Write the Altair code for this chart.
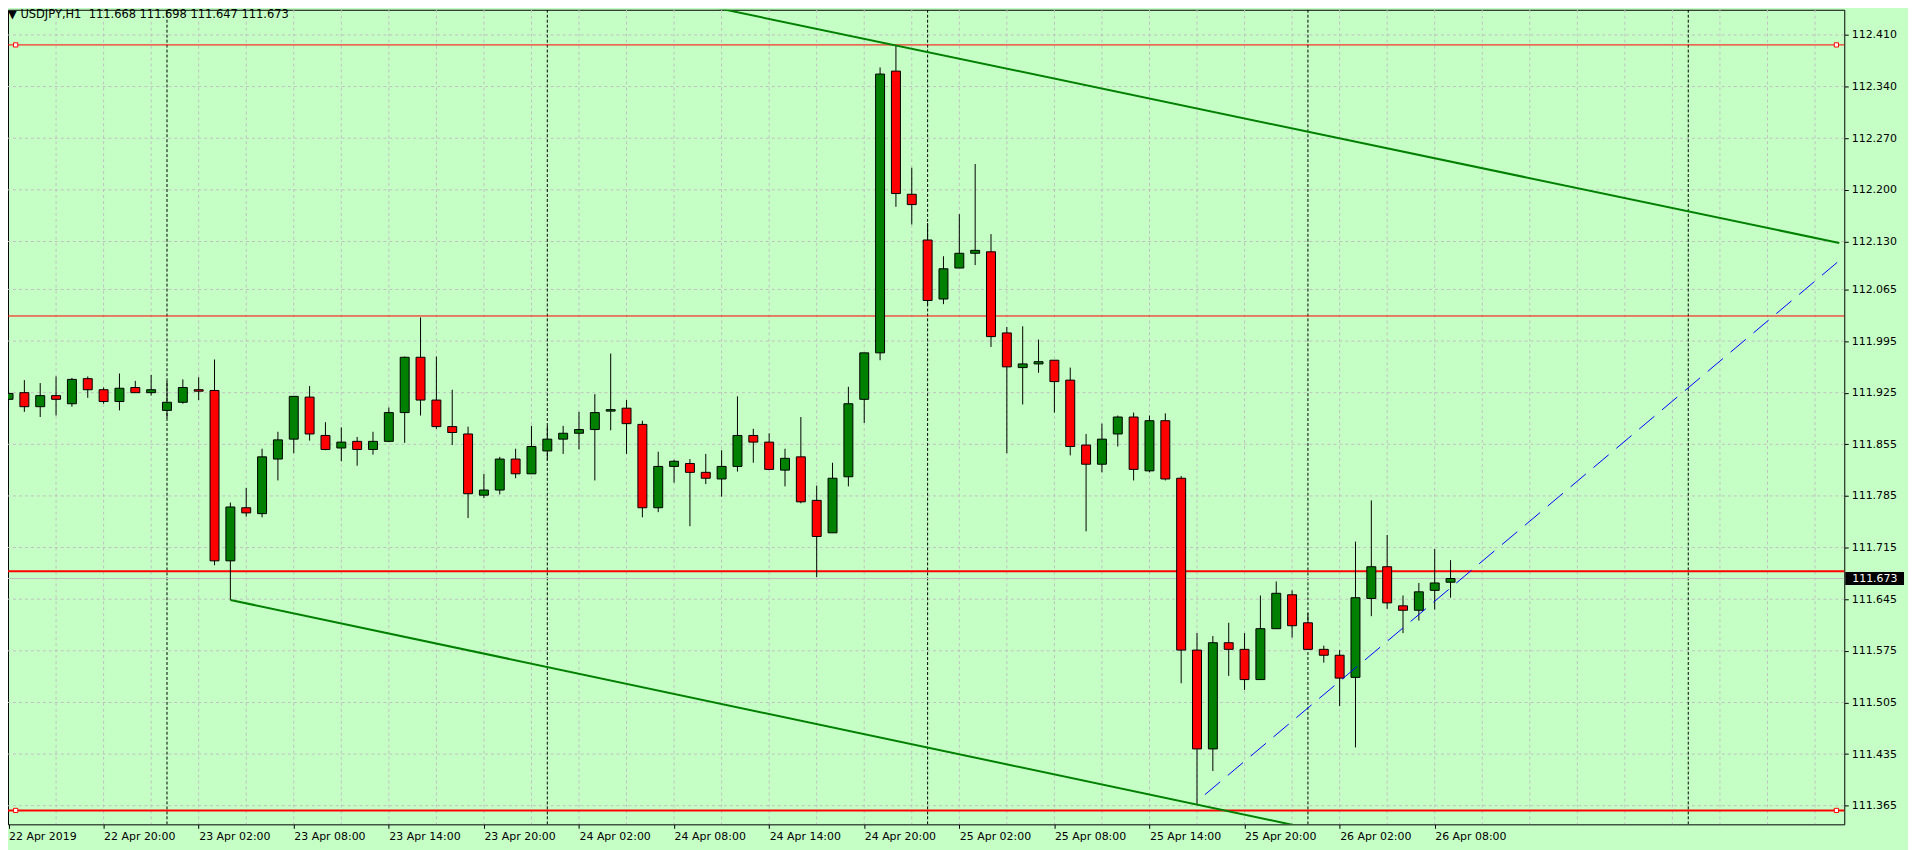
import altair as alt
import pandas as pd

# ---------------- data ----------------
TIME_LABELS = ["22 Apr 2019", "22 Apr 20:00", "23 Apr 02:00", "23 Apr 08:00",
               "23 Apr 14:00", "23 Apr 20:00", "24 Apr 02:00", "24 Apr 08:00",
               "24 Apr 14:00", "24 Apr 20:00", "25 Apr 02:00", "25 Apr 08:00",
               "25 Apr 14:00", "25 Apr 20:00", "26 Apr 02:00", "26 Apr 08:00"]
BARS_PER_LABEL = 6

OPEN = [111.916, 111.925, 111.906, 111.921, 111.910, 111.944, 111.929, 111.913, 111.932, 111.925,
        111.901, 111.912, 111.929, 111.928, 111.697, 111.769, 111.761, 111.835, 111.862, 111.919,
        111.867, 111.850, 111.859, 111.848, 111.859, 111.898, 111.973, 111.915, 111.879, 111.869,
        111.786, 111.793, 111.835, 111.815, 111.846, 111.862, 111.870, 111.875, 111.900, 111.904,
        111.882, 111.769, 111.825, 111.829, 111.817, 111.808, 111.825, 111.867, 111.858, 111.820,
        111.838, 111.779, 111.735, 111.811, 111.916, 111.979, 112.361, 112.194, 112.132, 112.052,
        112.094, 112.114, 112.116, 112.006, 111.959, 111.964, 111.969, 111.942, 111.854, 111.828,
        111.869, 111.892, 111.819, 111.887, 111.809, 111.576, 111.442, 111.586, 111.577, 111.536,
        111.605, 111.651, 111.613, 111.577, 111.569, 111.539, 111.646, 111.689, 111.636, 111.630,
        111.657, 111.668]
HIGH = [111.934, 111.942, 111.938, 111.947, 111.945, 111.947, 111.932, 111.951, 111.941, 111.949,
        111.941, 111.943, 111.946, 111.970, 111.776, 111.796, 111.849, 111.872, 111.920, 111.934,
        111.885, 111.878, 111.865, 111.872, 111.905, 111.974, 112.027, 111.974, 111.929, 111.879,
        111.815, 111.838, 111.849, 111.880, 111.880, 111.880, 111.899, 111.923, 111.978, 111.915,
        111.887, 111.845, 111.834, 111.835, 111.842, 111.847, 111.920, 111.876, 111.870, 111.849,
        111.892, 111.799, 111.830, 111.933, 111.979, 112.366, 112.396, 112.230, 112.155, 112.110,
        112.167, 112.235, 112.140, 112.014, 112.015, 111.997, 111.969, 111.959, 111.869, 111.883,
        111.894, 111.898, 111.894, 111.897, 111.812, 111.599, 111.595, 111.613, 111.599, 111.650,
        111.669, 111.657, 111.626, 111.582, 111.576, 111.723, 111.779, 111.732, 111.650, 111.667,
        111.713, 111.698]
LOW = [111.906, 111.899, 111.892, 111.894, 111.906, 111.918, 111.910, 111.901, 111.925, 111.921,
       111.890, 111.910, 111.915, 111.691, 111.644, 111.757, 111.756, 111.806, 111.843, 111.860,
       111.847, 111.832, 111.826, 111.841, 111.859, 111.857, 111.894, 111.876, 111.854, 111.755,
       111.782, 111.787, 111.809, 111.815, 111.833, 111.842, 111.848, 111.806, 111.874, 111.842,
       111.756, 111.763, 111.803, 111.744, 111.801, 111.784, 111.818, 111.830, 111.820, 111.798,
       111.775, 111.675, 111.735, 111.798, 111.884, 111.969, 112.177, 112.153, 112.044, 112.045,
       112.094, 112.098, 111.987, 111.843, 111.909, 111.952, 111.898, 111.840, 111.737, 111.817,
       111.852, 111.806, 111.817, 111.806, 111.531, 111.366, 111.412, 111.541, 111.522, 111.536,
       111.605, 111.593, 111.577, 111.559, 111.500, 111.444, 111.622, 111.632, 111.599, 111.616,
       111.631, 111.647]
CLOSE = [111.924, 111.906, 111.921, 111.916, 111.943, 111.929, 111.913, 111.931, 111.925, 111.929,
         111.912, 111.932, 111.927, 111.697, 111.770, 111.762, 111.838, 111.861, 111.920, 111.869,
         111.848, 111.858, 111.848, 111.859, 111.898, 111.973, 111.915, 111.879, 111.871, 111.788,
         111.793, 111.835, 111.815, 111.852, 111.862, 111.870, 111.875, 111.898, 111.902, 111.883,
         111.769, 111.825, 111.832, 111.817, 111.809, 111.825, 111.867, 111.858, 111.821, 111.836,
         111.777, 111.730, 111.809, 111.910, 111.979, 112.357, 112.195, 112.180, 112.050, 112.093,
         112.114, 112.118, 112.001, 111.960, 111.964, 111.967, 111.940, 111.852, 111.828, 111.862,
         111.892, 111.821, 111.887, 111.808, 111.576, 111.442, 111.586, 111.577, 111.536, 111.605,
         111.653, 111.609, 111.577, 111.569, 111.538, 111.647, 111.689, 111.640, 111.630, 111.655,
         111.667, 111.673]

PRICE_TICKS = [112.410, 112.340, 112.270, 112.200, 112.130, 112.065, 111.995, 111.925,
               111.855, 111.785, 111.715, 111.645, 111.575, 111.505, 111.435, 111.365]
GRID_BARS = list(range(3, 115, 3))
DAY_START_BARS = [10, 34, 58, 82, 106]

RED_THIN_LEVELS = [112.3965, 112.029]
RED_THICK_LEVELS = [111.683, 111.3586]
SELECTED_LEVELS = [112.3965, 111.3586]
SELECTED_HANDLE_BARS = [0.45, 115.35]
BID = 111.673

UPPER_TL_BARS = [43.5, 115.53]
UPPER_TL_PRICES = [112.452, 112.128]
LOWER_TL_BARS = [14, 85]
LOWER_TL_PRICES = [111.644, 111.321]
BLUE_TL_BARS = [75.5, 115.53]
BLUE_TL_PRICES = [111.380, 112.104]

HEADER = "\u25bc\u00a0USDJPY,H1\u00a0\u00a0111.668 111.698 111.647 111.673"

# ---------------- layout ----------------
W, H = 1844, 818
X_DOMAIN = [0.28125, 0.28125 + W / 16.0]
Y_DOMAIN = [111.33975, 112.44416]
BG = "#C6FFC6"
FONT = "DejaVu Sans"

candles = pd.DataFrame({"bar": list(range(len(OPEN))), "open": OPEN, "high": HIGH,
                        "low": LOW, "close": CLOSE})
candles["dir"] = ["up" if c >= o else "down" for o, c in zip(OPEN, CLOSE)]

xs = alt.Scale(domain=X_DOMAIN, nice=False, zero=False)
ys = alt.Scale(domain=Y_DOMAIN, nice=False, zero=False)

label_arr = "[" + ",".join("'%s'" % s for s in TIME_LABELS) + "]"
x_axis = alt.Axis(values=[i * BARS_PER_LABEL for i in range(len(TIME_LABELS))],
                  labelExpr=label_arr + "[round(datum.value/%d)]" % BARS_PER_LABEL,
                  title=None, grid=False, domain=False, tickSize=4, tickColor="black",
                  labelAlign="left", labelBaseline="top", labelPadding=2,
                  labelFontSize=11, labelFont=FONT, labelColor="black",
                  labelOverlap=False, labelBound=False, labelFlush=False)
y_axis = alt.Axis(orient="right", values=PRICE_TICKS, format=".3f", title=None,
                  grid=False, domain=False, tickSize=4, tickColor="black",
                  labelPadding=3, labelFontSize=11, labelFont=FONT, labelColor="black",
                  labelOverlap=False, labelBound=False, labelFlush=False)


def X(field):
    return alt.X(field, scale=xs, axis=x_axis)


def Y(field):
    return alt.Y(field, scale=ys, axis=y_axis)


hgrid = alt.Chart(pd.DataFrame({"p": PRICE_TICKS})).mark_rule(
    color="#C0C0C0", strokeWidth=1, strokeDash=[3, 3]).encode(y=Y("p:Q"))
vgrid = alt.Chart(pd.DataFrame({"b": GRID_BARS})).mark_rule(
    color="#C0C0C0", strokeWidth=1, strokeDash=[3, 3], clip=True).encode(x=X("b:Q"))
seps = alt.Chart(pd.DataFrame({"b": DAY_START_BARS})).mark_rule(
    color="black", strokeWidth=1, strokeDash=[3, 2], clip=True).encode(x=X("b:Q"))
bid = alt.Chart(pd.DataFrame({"p": [BID]})).mark_rule(
    color="#C0C0C0", strokeWidth=1).encode(y=Y("p:Q"))
red_thin = alt.Chart(pd.DataFrame({"p": RED_THIN_LEVELS})).mark_rule(
    color="#FF0000", strokeWidth=1).encode(y=Y("p:Q"))
red_thick = alt.Chart(pd.DataFrame({"p": RED_THICK_LEVELS})).mark_rule(
    color="#FF0000", strokeWidth=2).encode(y=Y("p:Q"))

wicks = alt.Chart(candles).mark_rule(color="black", strokeWidth=1, clip=True).encode(
    x=X("bar:Q"), y=Y("low:Q"), y2="high:Q")
bodies = alt.Chart(candles).mark_bar(size=9, stroke="black", strokeWidth=1, clip=True,
                                     opacity=1).encode(
    x=X("bar:Q"), y=Y("open:Q"), y2="close:Q",
    color=alt.Color("dir:N", scale=alt.Scale(domain=["up", "down"],
                                             range=["#008000", "#FF0000"]), legend=None))

tl_green = pd.DataFrame({
    "bar": UPPER_TL_BARS + LOWER_TL_BARS,
    "price": UPPER_TL_PRICES + LOWER_TL_PRICES,
    "line": ["upper"] * len(UPPER_TL_BARS) + ["lower"] * len(LOWER_TL_BARS)})
green_lines = alt.Chart(tl_green).mark_line(color="#008000", strokeWidth=2, clip=True).encode(
    x=X("bar:Q"), y=Y("price:Q"), detail="line:N")
blue_line = alt.Chart(pd.DataFrame({"bar": BLUE_TL_BARS, "price": BLUE_TL_PRICES})).mark_line(
    color="#0000FF", strokeWidth=1, strokeDash=[20, 10], clip=True).encode(
    x=X("bar:Q"), y=Y("price:Q"))

handles_df = pd.DataFrame([{"bar": b, "price": p} for p in SELECTED_LEVELS
                           for b in SELECTED_HANDLE_BARS])
handles = alt.Chart(handles_df).mark_point(shape="square", size=18, fill="white",
                                           fillOpacity=1, stroke="#FF0000",
                                           strokeWidth=1, opacity=1).encode(
    x=X("bar:Q"), y=Y("price:Q"))

tag_box = alt.Chart(pd.DataFrame({"p": [BID]})).mark_rule(
    color="black", strokeWidth=13).encode(
    y=Y("p:Q"), x=alt.value(W + 1), x2=alt.value(W + 60))
tag_text = alt.Chart(pd.DataFrame({"p": [BID], "t": ["%.3f" % BID]})).mark_text(
    align="left", baseline="middle", fontSize=11, font=FONT, color="white").encode(
    y=Y("p:Q"), x=alt.value(W + 8), text="t:N")

header = alt.Chart(pd.DataFrame({"t": [HEADER]})).mark_text(
    align="left", baseline="middle", fontSize=11.5, font=FONT, color="black").encode(
    x=alt.value(0), y=alt.value(5), text="t:N")

chart = alt.layer(hgrid, vgrid, seps, bid, red_thin, red_thick, wicks, bodies,
                  green_lines, blue_line, handles, tag_box, tag_text, header).properties(
    width=W, height=H,
    autosize=alt.AutoSizeParams(type="none"),
    padding={"left": 0, "top": 0, "right": 64, "bottom": 24},
    background=BG,
).configure_view(fill=BG, stroke="black", strokeWidth=1)

chart.save("out.html", embed_options={"renderer": "svg", "actions": False})
